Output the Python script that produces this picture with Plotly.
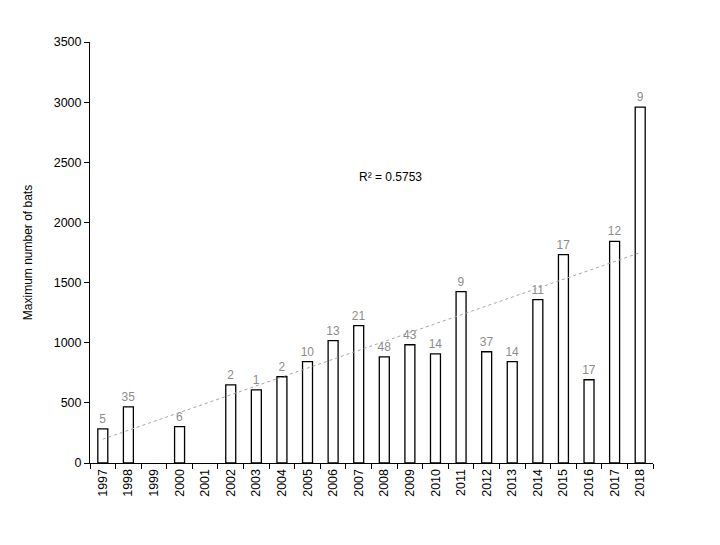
import numpy as np
import plotly.graph_objects as go

years = [str(y) for y in range(1997, 2019)]
max_bats = [283, 467, None, 302, None, 650, 608, 717, 842, 1017, 1142, 883, 983, 908,
            1425, 925, 842, 1358, 1733, 692, 1842, 2958]
counts = ["5", "35", "", "6", "", "2", "1", "2", "10", "13", "21", "48", "43", "14",
          "9", "37", "14", "11", "17", "17", "12", "9"]
r2_text = "R² = 0.5753"

# linear trend fitted on available points
xs = np.array([int(y) for y, v in zip(years, max_bats) if v is not None], dtype=float)
ys = np.array([v for v in max_bats if v is not None], dtype=float)
slope, intercept = np.polyfit(xs, ys, 1)
trend_x = [years[0], years[-1]]
trend_y = [slope * int(years[0]) + intercept, slope * int(years[-1]) + intercept]

font_family = "Liberation Sans, Arial, sans-serif"

fig = go.Figure()
fig.add_trace(go.Bar(
    x=years, y=max_bats, width=0.39,
    marker=dict(color="white", line=dict(color="black", width=1.3)),
    text=counts, textposition="outside", cliponaxis=False, constraintext="none",
    textfont=dict(color="#8c8c8c", size=12, family=font_family),
    showlegend=False,
))
fig.add_trace(go.Scatter(
    x=trend_x, y=trend_y, mode="lines",
    line=dict(color="#a6a6a6", width=1, dash="dot"),
    showlegend=False, hoverinfo="skip",
))

fig.add_annotation(
    text=r2_text, xref="paper", yref="paper", x=0.533, y=0.70,
    showarrow=False, font=dict(size=12, color="black", family=font_family),
)

fig.update_layout(
    width=720, height=545,
    margin=dict(l=90, r=67, t=42, b=82),
    paper_bgcolor="white", plot_bgcolor="white",
    font=dict(family=font_family, size=12, color="black"),
    bargap=0.6,
    uniformtext=dict(mode=False),
    xaxis=dict(
        type="category", categoryorder="array", categoryarray=years,
        showline=True, linecolor="black", linewidth=1,
        ticks="outside", tickson="boundaries", ticklen=5, tickcolor="black",
        tickangle=-90, showgrid=False, tickfont=dict(size=12.5),
    ),
    yaxis=dict(
        range=[0, 3500], dtick=500, showline=True, linecolor="black", linewidth=1,
        ticks="outside", ticklen=5, tickcolor="black", showgrid=False, zeroline=False,
        title=dict(text="Maximum number of bats", font=dict(size=12), standoff=18),
        tickfont=dict(size=12.5),
    ),
)

fig.write_html("out.html")
